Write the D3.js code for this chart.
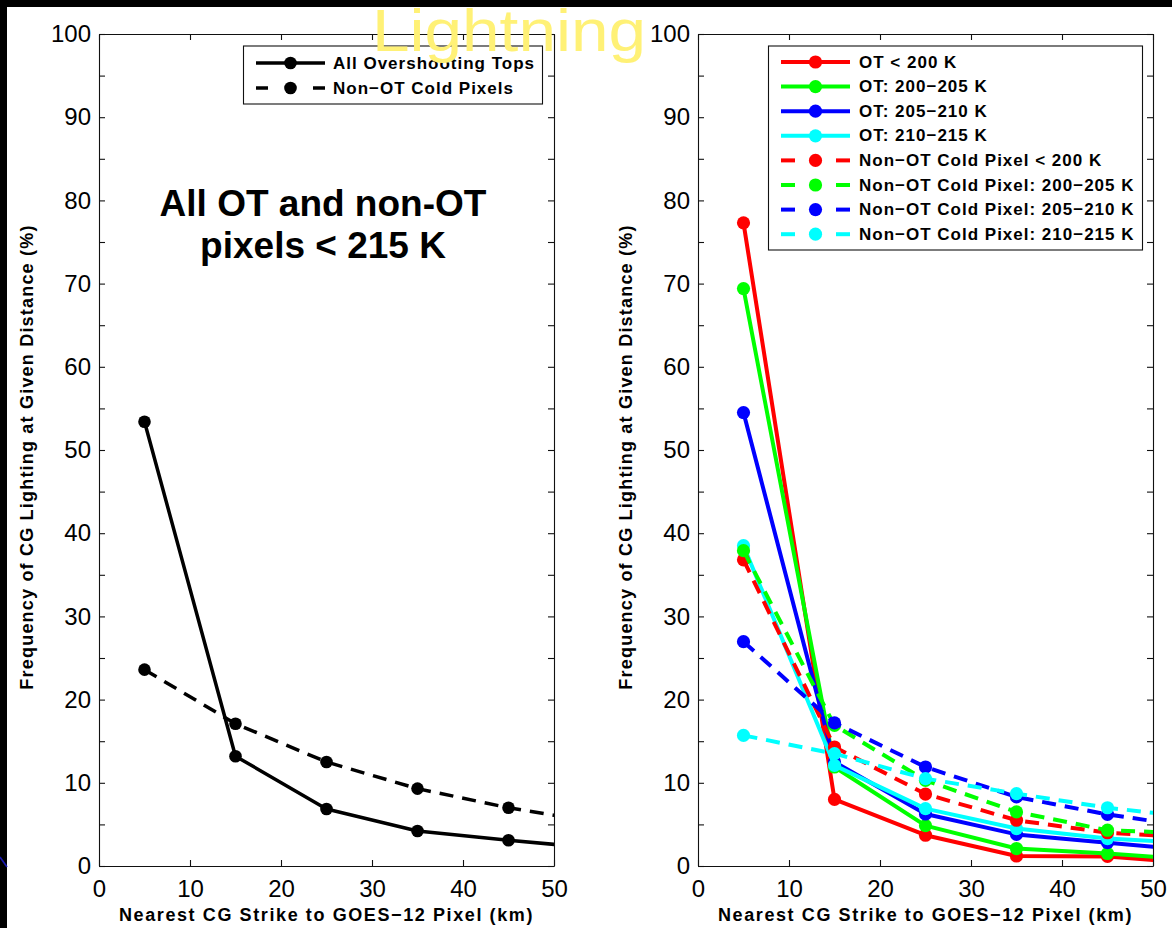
<!DOCTYPE html>
<html>
<head>
<meta charset="utf-8">
<script src="https://cdn.jsdelivr.net/npm/d3@7"></script>
<style>
  html, body { margin: 0; padding: 0; background: #000; }
  svg { display: block; }
</style>
</head>
<body>
<script>
// Distance bins (km) — the last bin lies past the 50 km axis limit and is clipped
const distanceKm = [5, 15, 25, 35, 45, 55];

// Left panel: all OT and non-OT pixels < 215 K
const allOvershootingTops = [53.4, 13.2, 6.85, 4.2, 3.1, 2.1];
const nonOTColdPixels     = [23.6, 17.1, 12.5, 9.3, 7.0, 5.2];

// Right panel: by brightness temperature class
const otBelow200      = [77.3, 8.0, 3.7, 1.2, 1.15, 0.3];
const ot200to205      = [69.4, 11.9, 4.85, 2.1, 1.5, 0.75];
const ot205to210      = [54.5, 12.5, 6.25, 3.8, 2.8, 1.85];
const ot210to215      = [38.5, 12.1, 6.9, 4.5, 3.3, 2.7];
const coldBelow200    = [36.8, 14.3, 8.65, 5.5, 4.0, 3.4];
const cold200to205    = [37.9, 16.9, 10.3, 6.5, 4.3, 3.9];
const cold205to210    = [26.96, 17.2, 11.9, 8.3, 6.2, 4.6];
const cold210to215    = [15.7, 13.5, 10.5, 8.7, 7.0, 5.8];

const leftLegendLabels = ["All Overshooting Tops", "Non\u2212OT Cold Pixels"];
const rightLegendLabels = [
  "OT < 200 K", "OT: 200\u2212205 K", "OT: 205\u2212210 K", "OT: 210\u2212215 K",
  "Non\u2212OT Cold Pixel < 200 K", "Non\u2212OT Cold Pixel: 200\u2212205 K",
  "Non\u2212OT Cold Pixel: 205\u2212210 K", "Non\u2212OT Cold Pixel: 210\u2212215 K"
];

const xTickValues = [0, 10, 20, 30, 40, 50];
const yTickValues = [0, 5, 10, 15, 20, 25, 30, 35, 40, 45, 50, 55, 60, 65, 70, 75, 80, 85, 90, 95, 100];
const yTickLabels = [0, 10, 20, 30, 40, 50, 60, 70, 80, 90, 100];

const xTitle = "Nearest CG Strike to GOES\u221212 Pixel (km)";
const yTitle = "Frequency of CG Lighting at Given Distance (%)";

const FONT = "'Liberation Sans', Arial, Helvetica, sans-serif";
const W = 1172, H = 928;

const svg = d3.select("body").append("svg")
  .attr("width", W).attr("height", H)
  .attr("font-family", FONT);

svg.append("rect").attr("width", W).attr("height", H).attr("fill", "#000");
svg.append("rect").attr("x", 7).attr("y", 7).attr("width", W - 7).attr("height", H - 7).attr("fill", "#fff");
// thin blue slide rule on the dark margin
svg.append("line").attr("x1", 0).attr("y1", 857).attr("x2", 7).attr("y2", 867)
  .attr("stroke", "#1b1bb0").attr("stroke-width", 1.6);

function drawPanel(cfg) {
  const x = d3.scaleLinear().domain([0, 50]).range([cfg.left, cfg.right]);
  const y = d3.scaleLinear().domain([0, 100]).range([866, 34]);
  const g = svg.append("g");

  const clipId = "clip-" + cfg.id;
  svg.append("defs").append("clipPath").attr("id", clipId)
    .append("rect")
    .attr("x", cfg.left).attr("y", 34)
    .attr("width", cfg.right - cfg.left).attr("height", 866 - 34);

  const styleAxis = (sel) => {
    sel.attr("font-family", FONT).attr("font-size", 24);
    sel.selectAll("path.domain").attr("stroke", "#111").attr("stroke-width", 1.1);
    sel.selectAll(".tick line").attr("stroke", "#111").attr("stroke-width", 1.1);
    sel.selectAll(".tick text").attr("fill", "#000");
  };

  // bottom and left axes with labels, inward ticks
  g.append("g").attr("transform", "translate(0,866)")
    .call(d3.axisBottom(x).tickValues(xTickValues).tickSizeInner(-6).tickSizeOuter(0).tickPadding(13.5))
    .call(styleAxis);
  g.append("g").attr("transform", `translate(${cfg.left},0)`)
    .call(d3.axisLeft(y).tickValues(yTickValues).tickSizeInner(-6).tickSizeOuter(0).tickPadding(8)
      .tickFormat(d => yTickLabels.includes(d) ? d : ""))
    .call(styleAxis);
  // mirrored top and right axes, no labels
  g.append("g").attr("transform", "translate(0,34)")
    .call(d3.axisTop(x).tickValues(xTickValues).tickSizeInner(-6).tickSizeOuter(0).tickFormat(""))
    .call(styleAxis);
  g.append("g").attr("transform", `translate(${cfg.right},0)`)
    .call(d3.axisRight(y).tickValues(yTickValues).tickSizeInner(-6).tickSizeOuter(0).tickFormat(""))
    .call(styleAxis);

  // axis titles
  g.append("text")
    .attr("x", (cfg.left + cfg.right) / 2).attr("y", 915)
    .attr("text-anchor", "middle").attr("dominant-baseline", "central")
    .attr("font-size", 18).attr("font-weight", "bold").attr("letter-spacing", 1.6)
    .text(xTitle);
  g.append("text")
    .attr("transform", `translate(${cfg.left - 72},457) rotate(-90)`)
    .attr("text-anchor", "middle").attr("dominant-baseline", "central")
    .attr("font-size", 18).attr("font-weight", "bold").attr("letter-spacing", 1.2)
    .text(yTitle);

  // data series
  const line = d3.line().x(d => x(d[0])).y(d => y(d[1]));
  const plot = g.append("g").attr("clip-path", `url(#${clipId})`);
  cfg.series.forEach(s => {
    const pts = distanceKm.map((d, i) => [d, s.values[i]]);
    plot.append("path").datum(pts)
      .attr("d", line)
      .attr("fill", "none")
      .attr("stroke", s.color)
      .attr("stroke-width", cfg.lineWidth)
      .attr("stroke-linejoin", "round")
      .attr("stroke-dasharray", s.dashed ? "14,9" : null);
    plot.selectAll(null).data(pts).enter().append("circle")
      .attr("cx", d => x(d[0])).attr("cy", d => y(d[1]))
      .attr("r", cfg.markerR).attr("fill", s.color);
  });

  // legend
  const lg = cfg.legend;
  const leg = g.append("g");
  leg.append("rect")
    .attr("x", lg.x0).attr("y", lg.y0)
    .attr("width", lg.x1 - lg.x0).attr("height", lg.y1 - lg.y0)
    .attr("fill", "#fff").attr("stroke", "#111").attr("stroke-width", 1.1);
  cfg.series.forEach((s, i) => {
    const ry = lg.firstRow + i * lg.rowStep;
    const sx0 = lg.sampleX0, sx1 = lg.sampleX1, mid = (sx0 + sx1) / 2;
    if (s.dashed) {
      [[sx0, sx0 + lg.dashLen], [sx1 - lg.dashLen, sx1]].forEach(([a, b]) => {
        leg.append("line").attr("x1", a).attr("x2", b).attr("y1", ry).attr("y2", ry)
          .attr("stroke", s.color).attr("stroke-width", cfg.lineWidth);
      });
    } else {
      leg.append("line").attr("x1", sx0).attr("x2", sx1).attr("y1", ry).attr("y2", ry)
        .attr("stroke", s.color).attr("stroke-width", cfg.lineWidth);
    }
    leg.append("circle").attr("cx", mid).attr("cy", ry).attr("r", cfg.markerR).attr("fill", s.color);
    leg.append("text")
      .attr("x", lg.textX).attr("y", ry)
      .attr("dominant-baseline", "central")
      .attr("font-size", 17).attr("font-weight", "bold").attr("letter-spacing", 1)
      .text(s.label);
  });
}

drawPanel({
  id: "left", left: 99, right: 554, lineWidth: 3.5, markerR: 6.3,
  series: [
    { values: allOvershootingTops, color: "#000", dashed: false, label: leftLegendLabels[0] },
    { values: nonOTColdPixels, color: "#000", dashed: true, label: leftLegendLabels[1] }
  ],
  legend: { x0: 243.5, x1: 542.5, y0: 46, y1: 104, firstRow: 63, rowStep: 25,
            sampleX0: 256, sampleX1: 325, dashLen: 12, textX: 333 }
});

const rightColors = ["#ff0000", "#00ff00", "#0000ff", "#00ffff"];
const rightValues = [otBelow200, ot200to205, ot205to210, ot210to215,
                     coldBelow200, cold200to205, cold205to210, cold210to215];
drawPanel({
  id: "right", left: 698, right: 1153, lineWidth: 4, markerR: 6.6,
  series: rightValues.map((v, i) => ({
    values: v, color: rightColors[i % 4], dashed: i >= 4, label: rightLegendLabels[i]
  })),
  legend: { x0: 768.5, x1: 1142.5, y0: 46, y1: 250, firstRow: 62, rowStep: 24.6,
            sampleX0: 781, sampleX1: 850, dashLen: 14, textX: 859 }
});

// panel annotation
const note = svg.append("text")
  .attr("text-anchor", "middle").attr("font-size", 37).attr("font-weight", "bold")
  .attr("fill", "#000");
note.append("tspan").attr("x", 323).attr("y", 216).text("All OT and non-OT");
note.append("tspan").attr("x", 323).attr("y", 258).text("pixels < 215 K");

// slide title
svg.append("text")
  .attr("x", 372).attr("y", 51)
  .attr("font-size", 60)
  .attr("fill", "#fff176")
  .attr("textLength", 274).attr("lengthAdjust", "spacingAndGlyphs")
  .text("Lightning");
</script>
</body>
</html>
